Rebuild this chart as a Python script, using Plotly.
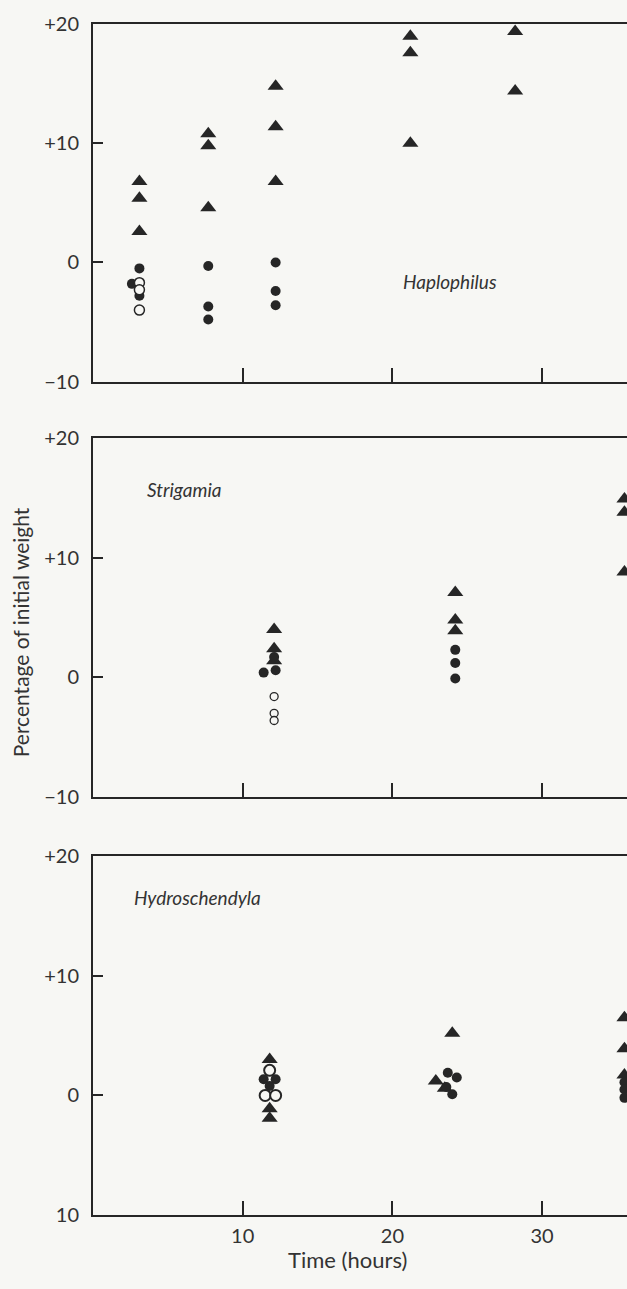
import plotly.graph_objects as go

# ---------------- data ----------------
# Haplophilus
hap_tri_x = [3.1, 3.1, 3.1, 7.7, 7.7, 7.7, 12.2, 12.2, 12.2, 21.2, 21.2, 21.2, 28.2, 28.2]
hap_tri_y = [6.8, 5.4, 2.6, 10.8, 9.8, 4.6, 14.8, 11.4, 6.8, 19.0, 17.6, 10.0, 19.4, 14.4]
hap_fill_x = [3.1, 2.6, 3.1, 7.7, 7.7, 7.7, 12.2, 12.2, 12.2]
hap_fill_y = [-0.5, -1.8, -2.8, -0.3, -3.7, -4.8, 0.0, -2.4, -3.6]
hap_open_x = [3.1, 3.1, 3.1]
hap_open_y = [-1.7, -2.3, -4.0]

# Strigamia
str_tri_x = [12.1, 12.1, 12.1, 24.2, 24.2, 24.2, 35.5, 35.5, 35.5]
str_tri_y = [4.0, 2.4, 1.4, 7.1, 4.8, 3.9, 14.9, 13.8, 8.8]
str_fill_x = [11.4, 12.2, 12.1, 24.2, 24.2, 24.2]
str_fill_y = [0.4, 0.6, 1.7, 2.3, 1.2, -0.1]
str_open_x = [12.1, 12.1, 12.1]
str_open_y = [-1.6, -3.0, -3.6]

# Hydroschendyla
hyd_tri_x = [11.8, 11.8, 11.8, 24.0, 22.9, 23.5, 35.5, 35.5, 35.5]
hyd_tri_y = [3.0, -1.1, -1.9, 5.2, 1.2, 0.6, 6.5, 3.9, 1.7]
hyd_fill_x = [11.4, 12.2, 11.8, 23.7, 24.3, 23.6, 24.0, 35.5, 35.5, 35.5]
hyd_fill_y = [1.35, 1.35, 0.8, 1.9, 1.5, 0.7, 0.1, 1.1, 0.5, -0.2]
hyd_open_x = [11.8, 11.5, 12.2]
hyd_open_y = [2.1, 0.0, 0.0]

species = ["Haplophilus", "Strigamia", "Hydroschendyla"]
species_pos = [(20.6, -1.6), (3.5, 15.7), (2.6, 16.5)]

y_tickvals = [-10, 0, 10, 20]
y_ticktext_top = ["\u221210", "0", "+10", "+20"]
y_ticktext_bottom = ["10", "0", "+10", "+20"]
x_tickvals = [10, 20, 30]
x_ticktext = ["10", "20", "30"]

# ---------------- figure ----------------
W, H = 627, 1289
INK = "#262626"
BG = "#f7f7f4"
FONT = "Lato"

panels = [
    (hap_tri_x, hap_tri_y, hap_fill_x, hap_fill_y, hap_open_x, hap_open_y, 10, 1.5),
    (str_tri_x, str_tri_y, str_fill_x, str_fill_y, str_open_x, str_open_y, 8, 1.3),
    (hyd_tri_x, hyd_tri_y, hyd_fill_x, hyd_fill_y, hyd_open_x, hyd_open_y, 11, 2.0),
]
# panel top / bottom in pixels
panel_px = [(11.5, 375.5), (433, 799), (859, 1225)]

fig = go.Figure()
for i, (tx, ty, fx, fy, ox, oy, osize, ow) in enumerate(panels):
    n = "" if i == 0 else str(i + 1)
    xa, ya = "x" + n, "y" + n
    fig.add_trace(go.Scatter(x=tx, y=ty, mode="markers", xaxis=xa, yaxis=ya,
                             marker=dict(symbol="triangle-up", size=14, color=INK, line=dict(width=0)),
                             cliponaxis=False, showlegend=False))
    fig.add_trace(go.Scatter(x=fx, y=fy, mode="markers", xaxis=xa, yaxis=ya,
                             marker=dict(symbol="circle", size=10, color=INK, line=dict(width=0)),
                             cliponaxis=False, showlegend=False))
    fig.add_trace(go.Scatter(x=ox, y=oy, mode="markers", xaxis=xa, yaxis=ya,
                             marker=dict(symbol="circle", size=osize, color=BG,
                                         line=dict(width=ow, color=INK)),
                             cliponaxis=False, showlegend=False))

    top, bot = panel_px[i]
    dom_y = [1 - bot / H, 1 - top / H]
    last = (i == 2)
    fig.update_layout(**{
        ("xaxis" + n): dict(
            domain=[93 / W, 1], range=[0, (W - 93) / 14.97],
            tickvals=x_tickvals, ticktext=x_ticktext, showticklabels=last,
            ticks="inside", ticklen=14, tickwidth=2, tickcolor=INK,
            showline=True, linewidth=2, linecolor=INK, mirror=True,
            showgrid=False, zeroline=False, anchor=ya,
            tickfont=dict(family=FONT, size=20, color="#333"),
            ticklabelstandoff=2,
        ),
        ("yaxis" + n): dict(
            domain=dom_y, range=[-10, 20],
            tickvals=y_tickvals,
            ticktext=(y_ticktext_bottom if last else y_ticktext_top),
            ticks="inside", ticklen=10, tickwidth=2, tickcolor=INK,
            showline=True, linewidth=2, linecolor=INK, mirror=False,
            showgrid=False, zeroline=False, anchor=xa,
            tickfont=dict(family=FONT, size=20, color="#333"),
            ticklabelstandoff=8,
        ),
    })
    sx, sy = species_pos[i]
    fig.add_annotation(x=sx, y=sy, xref=xa, yref=ya, text="<i>" + species[i] + "</i>",
                       showarrow=False, xanchor="left", yanchor="middle",
                       font=dict(family=FONT, size=19, color="#333"))

fig.add_annotation(x=20 / W, y=1 - 631 / H, xref="paper", yref="paper",
                   text="Percentage of initial weight", textangle=-90, showarrow=False,
                   xanchor="center", yanchor="middle",
                   font=dict(family=FONT, size=21, color="#333"))
fig.add_annotation(x=347 / W, y=1 - 1270 / H, xref="paper", yref="paper",
                   text="Time (hours)", showarrow=False,
                   xanchor="center", yanchor="middle",
                   font=dict(family=FONT, size=22, color="#333"))

fig.update_layout(width=W, height=H, margin=dict(l=0, r=0, t=0, b=0),
                  paper_bgcolor=BG, plot_bgcolor=BG, showlegend=False)

fig.write_html("out.html", config={"displayModeBar": False},
               post_script="document.body.style.margin='0';document.body.style.overflow='hidden';"
                           "document.body.style.background='" + BG + "';")
